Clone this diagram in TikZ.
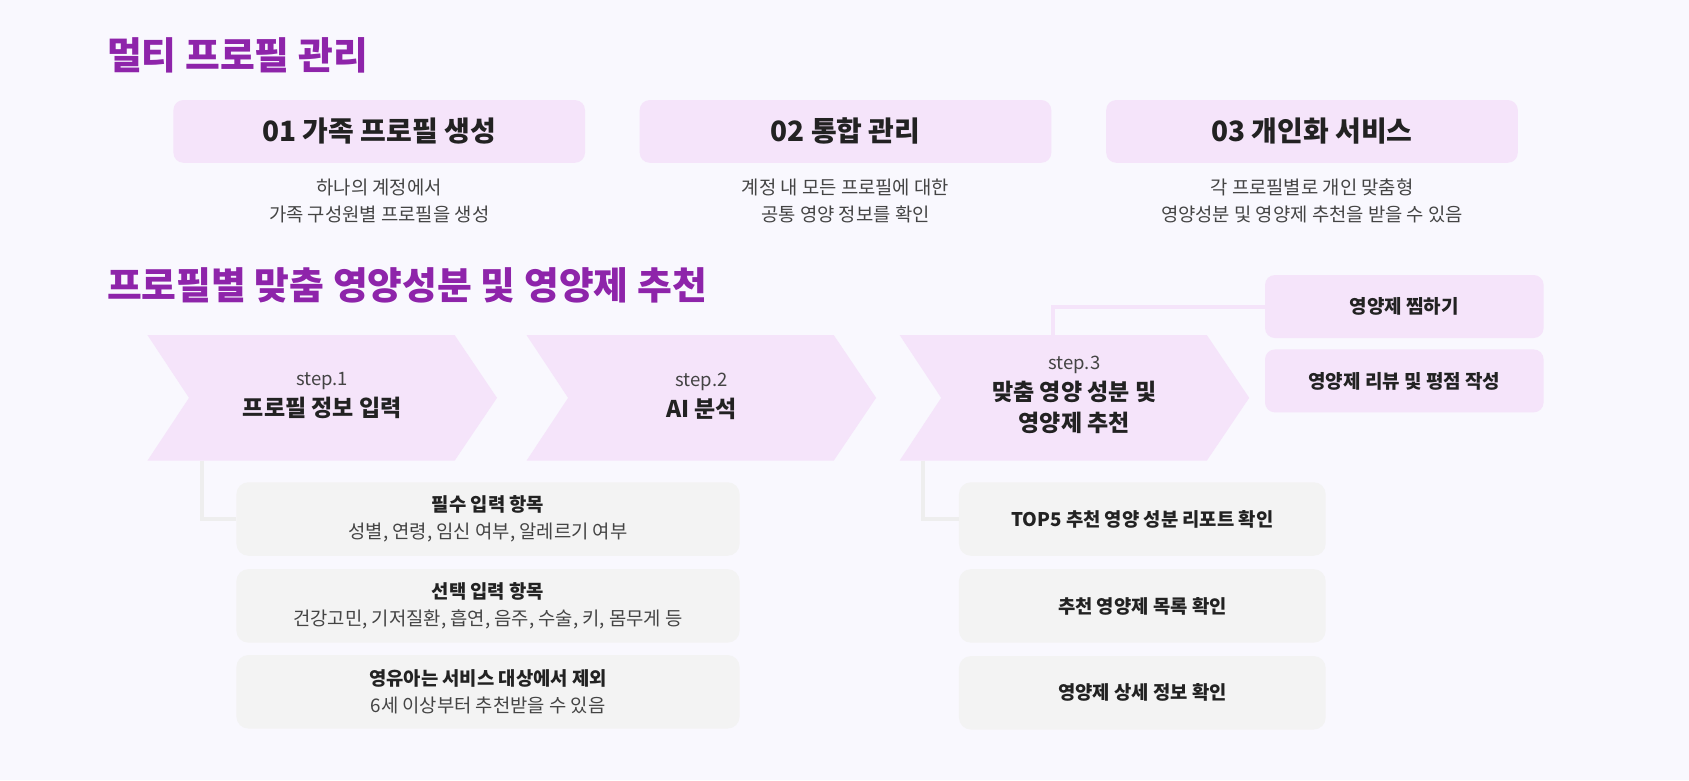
\documentclass[tikz,border=0pt]{standalone}
\usepackage{fontspec}
\usepackage{xcolor}
\setmainfont{Noto Sans CJK KR}
\usetikzlibrary{positioning}

\definecolor{pagebg}{HTML}{F9F8FE}
\definecolor{titlepurple}{HTML}{8E24AA}
\definecolor{lilac}{HTML}{F5E4FA}
\definecolor{boxgray}{HTML}{F3F3F3}
\definecolor{linegray}{HTML}{EEEEEE}
\definecolor{inkdark}{HTML}{222222}
\definecolor{inksoft}{HTML}{444444}

\tikzset{
  sectitle/.style={anchor=west,inner sep=0pt,text=titlepurple,font=\fontsize{37.8}{44}\selectfont\bfseries},
  headbox/.style={fill=lilac,rounded corners=10pt,minimum width=411.6pt,minimum height=62.7pt,
    text=inkdark,font=\fontsize{28}{33}\selectfont\bfseries},
  headdesc/.style={align=center,text=inksoft,font=\fontsize{18.8}{27}\selectfont},
  stepbg/.style={fill=lilac},
  steptext/.style={align=center,text=inkdark,font=\fontsize{23}{31}\selectfont\bfseries},
  sidebox/.style={fill=lilac,rounded corners=10pt,minimum width=278.6pt,minimum height=63pt,
    text=inkdark,font=\fontsize{19}{27}\selectfont\bfseries},
  infobox/.style={fill=boxgray,rounded corners=12pt,minimum height=73.5pt,align=center,
    text=inkdark,font=\fontsize{18.8}{26.5}\selectfont\bfseries},
  link/.style={line width=4pt},
}
\newcommand{\steplabel}[1]{{\fontsize{18.5}{31}\selectfont\mdseries\color{inksoft}#1}}
\newcommand{\plain}[1]{{\mdseries\color{inksoft}#1}}

\begin{document}
\begin{tikzpicture}[x=1pt,y=-1pt]
  \fill[pagebg] (0,0) rectangle (1689,780);

  % multi profile
  \node[sectitle] (t1) at (107,55) {멀티 프로필 관리};
  \node[headbox] (h1) at (379.2,131.4) {01 가족 프로필 생성};
  \node[headbox] (h2) at (845.5,131.4) {02 통합 관리};
  \node[headbox] (h3) at (1312,131.4)  {03 개인화 서비스};
  \node[headdesc,below=12pt of h1] (d1) {하나의 계정에서\\가족 구성원별 프로필을 생성};
  \node[headdesc,below=12pt of h2] (d2) {계정 내 모든 프로필에 대한\\공통 영양 정보를 확인};
  \node[headdesc,below=12pt of h3] (d3) {각 프로필별로 개인 맞춤형\\영양성분 및 영양제 추천을 받을 수 있음};

  % recommendation flow
  \node[sectitle] (t2) at (107,285) {프로필별 맞춤 영양성분 및 영양제 추천};
  \foreach \x in {147.4,526.5,899.6}
    \fill[stepbg] (\x,335) -- ++(307.2,0) -- ++(42.4,62.85) -- ++(-42.4,62.85)
      -- ++(-307.2,0) -- ++(41.6,-62.85) -- cycle;
  \node[steptext] (s1) at (322.2,396) {\steplabel{step.1}\\프로필 정보 입력};
  \node[steptext] (s2) at (701.5,396) {\steplabel{step.2}\\AI 분석};
  \node[steptext] (s3) at (1074.3,395) {\steplabel{step.3}\\맞춤 영양 성분 및\\영양제 추천};
  \coordinate (s1foot) at (201.7,460.7);
  \coordinate (s3foot) at (923.3,460.7);
  \coordinate (s3top)  at (1053.3,335);

  \node[sidebox] (r1) at (1404.3,306.5) {영양제 찜하기};
  \node[sidebox,below=11pt of r1] (r2) {영양제 리뷰 및 평점 작성};
  \draw[link,lilac] (s3top) |- (r1.west);

  \node[infobox,minimum width=503.2pt] (a1) at (488,519) {필수 입력 항목\\\plain{성별, 연령, 임신 여부, 알레르기 여부}};
  \node[infobox,minimum width=503.2pt,below=13pt of a1] (a2) {선택 입력 항목\\\plain{건강고민, 기저질환, 흡연, 음주, 수술, 키, 몸무게 등}};
  \node[infobox,minimum width=503.2pt,below=12pt of a2] (a3) {영유아는 서비스 대상에서 제외\\\plain{6세 이상부터 추천받을 수 있음}};
  \draw[link,linegray] (s1foot) |- (a1.west);

  \node[infobox,minimum width=366.7pt] (b1) at (1142.3,519) {TOP5 추천 영양 성분 리포트 확인};
  \node[infobox,minimum width=366.7pt,below=13pt of b1] (b2) {추천 영양제 목록 확인};
  \node[infobox,minimum width=366.7pt,below=13pt of b2] (b3) {영양제 상세 정보 확인};
  \draw[link,linegray] (s3foot) |- (b1.west);
\end{tikzpicture}
\end{document}
